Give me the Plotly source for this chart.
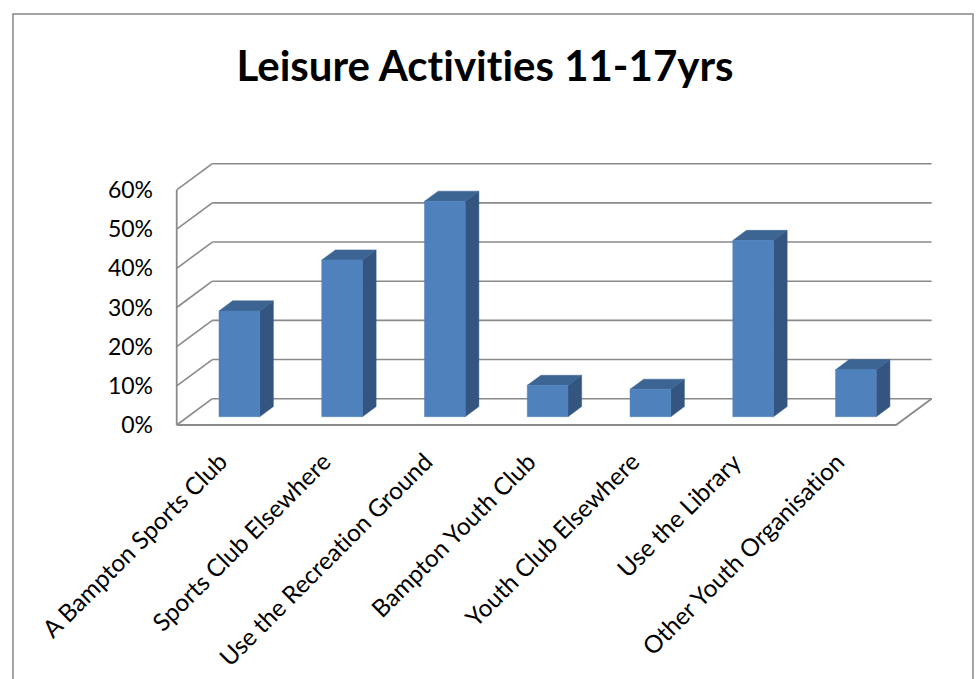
import plotly.graph_objects as go

# ---- data ----
categories = [
    "A Bampton Sports Club",
    "Sports Club Elsewhere",
    "Use the Recreation Ground",
    "Bampton Youth Club",
    "Youth Club Elsewhere",
    "Use the Library",
    "Other Youth Organisation",
]
values = [27, 40, 55, 8, 7, 45, 12]          # percent
tick_values = [0, 10, 20, 30, 40, 50, 60]
tick_labels = ["0%", "10%", "20%", "30%", "40%", "50%", "60%"]
title_text = "Leisure Activities 11-17yrs"


def no_lig(s):
    # keep Lato from joining "t" + "i" into a ligature
    return s.replace("ti", "t\u200ci")


# ---- canvas / projection setup ----
W, H = 978, 679
ML, MR, MT, MB = 156, 26, 155, 242
PX_PER_X = 102.76      # pixels per category
PX_PER_Y = 3.917       # pixels per percentage point
FRONT_LEFT_PX = 176.7  # pixel x of the front-left corner of the floor
FLOOR_PX_Y = 425.0     # pixel y of the front floor edge
PW, PH = W - ML - MR, H - MT - MB

x_min = -0.5 - (FRONT_LEFT_PX - ML) / PX_PER_X
x_max = x_min + PW / PX_PER_X
y_min = -((H - MB) - FLOOR_PX_Y) / PX_PER_Y
y_max = (FLOOR_PX_Y - MT) / PX_PER_Y

# oblique depth vector (full depth of the floor) in data units
DX, DY = 0.3465, 6.71
BAR_W = 0.396
F0, F1 = 0.316, 0.70   # front / back depth of the columns

n = len(categories)
ymax_axis = tick_values[-1]

GRID = "#8a8a8a"
FRONT = "#4f81bd"
SIDE = "#33557f"
TOP = "#3d6594"
FONT = "Lato"

fig = go.Figure()


def add_lines(xs, ys, width=1.6):
    fig.add_trace(go.Scatter(x=xs, y=ys, mode="lines",
                             line=dict(color=GRID, width=width),
                             hoverinfo="skip", showlegend=False,
                             cliponaxis=False))


# back wall gridlines and left wall diagonals
gx, gy, lx, ly = [], [], [], []
for t in tick_values:
    gx += [-0.5 + DX, n - 0.5 + DX, None]
    gy += [t + DY, t + DY, None]
    lx += [-0.5, -0.5 + DX, None]
    ly += [t, t + DY, None]
add_lines(gx, gy)
add_lines(lx, ly)
# left wall front edge, floor front edge and floor right edge
add_lines([-0.5, -0.5, None, -0.5, n - 0.5, n - 0.5 + DX],
          [ymax_axis, 0, None, 0, 0, DY], width=1.8)

# columns
fx, fy, sx, sy, tx, ty = [], [], [], [], [], []
ddx, ddy = (F1 - F0) * DX, (F1 - F0) * DY
for i, v in enumerate(values):
    x0 = i - BAR_W / 2 + F0 * DX
    x1 = i + BAR_W / 2 + F0 * DX
    yb = F0 * DY
    yt = v + F0 * DY
    fx += [x0, x1, x1, x0, x0, None]
    fy += [yb, yb, yt, yt, yb, None]
    sx += [x1, x1 + ddx, x1 + ddx, x1, x1, None]
    sy += [yb, yb + ddy, yt + ddy, yt, yb, None]
    tx += [x0, x1, x1 + ddx, x0 + ddx, x0, None]
    ty += [yt, yt, yt + ddy, yt + ddy, yt, None]

for xs, ys, col in [(sx, sy, SIDE), (tx, ty, TOP), (fx, fy, FRONT)]:
    fig.add_trace(go.Scatter(x=xs, y=ys, mode="lines", fill="toself",
                             fillcolor=col, line=dict(color=col, width=0.5),
                             hoverinfo="skip", showlegend=False,
                             cliponaxis=False))


def px_to_paper(px, py):
    return (px - ML) / PW, ((H - MB) - py) / PH


# category labels, rotated
_, label_y = px_to_paper(0, 445)
for i, c in enumerate(categories):
    fig.add_annotation(x=i + 0.06, y=label_y, xref="x", yref="paper",
                       text=no_lig(c), showarrow=False, textangle=-45,
                       xanchor="right", yanchor="top", borderpad=0,
                       font=dict(family=FONT, size=24.3, color="black"))

# outer chart border
bx0, by0 = px_to_paper(13, 14)
bx1, by1 = px_to_paper(973, 700)
fig.add_shape(type="rect", xref="paper", yref="paper",
              x0=bx0, y0=by1, x1=bx1, y1=by0,
              line=dict(color="#868686", width=1.5), layer="below")

fig.update_layout(
    width=W, height=H,
    margin=dict(l=ML, r=MR, t=MT, b=MB),
    paper_bgcolor="white", plot_bgcolor="white",
    title=dict(text=f"<b>{no_lig(title_text)}</b>", x=485 / W, xanchor="center",
               y=1 - 66 / H, yanchor="middle", xref="container", yref="container",
               font=dict(family=FONT, size=42, color="black")),
    xaxis=dict(range=[x_min, x_max], showgrid=False, zeroline=False,
               showline=False, showticklabels=False, ticks="", fixedrange=True),
    yaxis=dict(range=[y_min, y_max], showgrid=False, zeroline=False,
               showline=False, tickvals=tick_values, ticktext=tick_labels,
               ticks="", ticklabelstandoff=2,
               tickfont=dict(family=FONT, size=23, color="black"),
               fixedrange=True),
    showlegend=False,
)

fig.write_html("out.html")
